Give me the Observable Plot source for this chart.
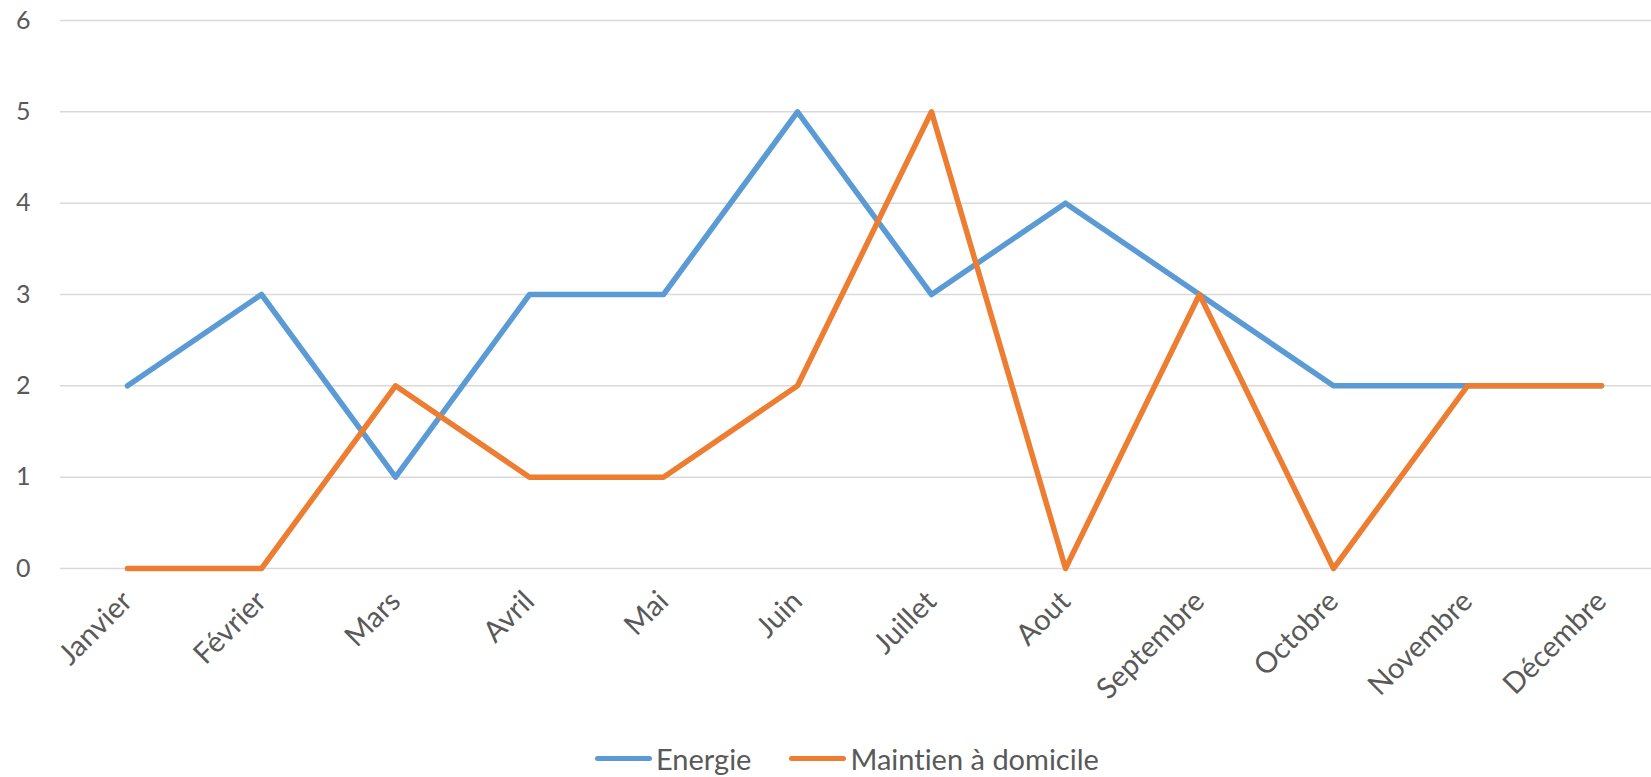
<!DOCTYPE html>
<html>
<head>
<meta charset="utf-8">
<script src="https://cdn.jsdelivr.net/npm/d3@7"></script>
<script src="https://cdn.jsdelivr.net/npm/@observablehq/plot@0.6"></script>
<style>
  html, body { margin: 0; padding: 0; background: #fff; }
  body { width: 1651px; height: 777px; overflow: hidden; font-family: Lato, "Open Sans", sans-serif; font-variant-ligatures: none; }
  svg text { font-variant-ligatures: none; }
  #legend { display: flex; align-items: center; height: 37px; padding-left: 595px; font-size: 29px; color: #595959; }
  .item { display: flex; align-items: center; margin-right: 38px; }
  .sw { width: 57px; height: 5px; border-radius: 3px; margin-right: 4px; }
</style>
</head>
<body>
<div id="chart"></div>
<div id="legend"></div>
<script>
const months = ["Janvier","Février","Mars","Avril","Mai","Juin","Juillet","Aout","Septembre","Octobre","Novembre","Décembre"];
const energie = [2,3,1,3,3,5,3,4,3,2,2,2];
const maintien = [0,0,2,1,1,2,5,0,3,0,2,2];
const seriesNames = ["Energie","Maintien à domicile"];
const colors = ["#5B9BD5","#ED7D31"];
const yTicks = [0,1,2,3,4,5,6];

const rows = [];
months.forEach((m,i) => rows.push({month:m, value:energie[i], series:seriesNames[0]}));
months.forEach((m,i) => rows.push({month:m, value:maintien[i], series:seriesNames[1]}));

const plot = Plot.plot({
  width: 1651,
  height: 740,
  marginLeft: 60,
  marginRight: 0,
  marginTop: 20,
  marginBottom: 172,
  style: {fontFamily: "Lato, 'Open Sans', sans-serif", fontSize: "25px", color: "#595959", background: "#fff"},
  x: {type: "point", domain: months, range: [125, 1602], padding: 0, label: null},
  y: {domain: [0,6], ticks: yTicks, label: null},
  color: {domain: seriesNames, range: colors},
  marks: [
    Plot.gridY(yTicks, {stroke: "#D9D9D9", strokeOpacity: 1, strokeWidth: 1.5}),
    Plot.axisY(yTicks, {tickSize: 0, tickPadding: 30, tickFormat: d3.format("d"), fontSize: 25, fill: "#595959", label: null}),
    Plot.axisX({tickSize: 0, tickRotate: -45, tickPadding: 28, fontSize: 29, fill: "#595959", label: null}),
    Plot.line(rows, {x: "month", y: "value", z: "series", stroke: "series", strokeWidth: 5.5, strokeLinejoin: "round", strokeLinecap: "round"})
  ]
});
document.getElementById("chart").appendChild(plot);

const leg = document.getElementById("legend");
seriesNames.forEach((s,i) => {
  const it = document.createElement("div");
  it.className = "item";
  const sw = document.createElement("div");
  sw.className = "sw";
  sw.style.background = colors[i];
  const t = document.createElement("span");
  t.textContent = s;
  it.appendChild(sw); it.appendChild(t);
  leg.appendChild(it);
});
</script>
</body>
</html>
